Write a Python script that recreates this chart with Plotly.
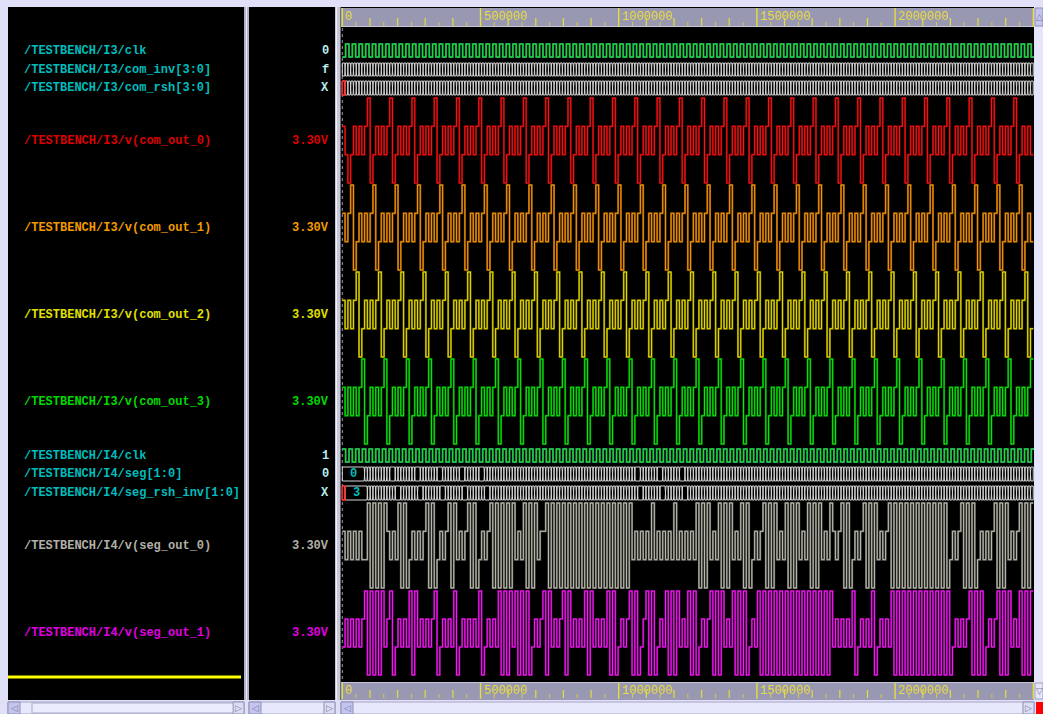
import plotly.graph_objects as go

W, H = 1043, 714

# ---------------------------------------------------------------- time base
STEP = 10080            # one LCD drive slot (ns)
CLK_HALF = 12100        # half period of the clocks (ns)
T_LEFT, T_RIGHT = -4700, 2502500

# ---------------------------------------------------------------- signal list
SIGNAL_NAMES = [
    "/TESTBENCH/I3/clk",
    "/TESTBENCH/I3/com_inv[3:0]",
    "/TESTBENCH/I3/com_rsh[3:0]",
    "/TESTBENCH/I3/v(com_out_0)",
    "/TESTBENCH/I3/v(com_out_1)",
    "/TESTBENCH/I3/v(com_out_2)",
    "/TESTBENCH/I3/v(com_out_3)",
    "/TESTBENCH/I4/clk",
    "/TESTBENCH/I4/seg[1:0]",
    "/TESTBENCH/I4/seg_rsh_inv[1:0]",
    "/TESTBENCH/I4/v(seg_out_0)",
    "/TESTBENCH/I4/v(seg_out_1)",
]
CURSOR_VALUES = ["0", "f", "X", "3.30V", "3.30V", "3.30V", "3.30V",
                 "1", "0", "X", "3.30V", "3.30V"]

RULER_TICKS = [0, 500000, 1000000, 1500000, 2000000, 2500000]
RULER_LABELS = ["0", "500000", "1000000", "1500000", "2000000", ""]
RULER_MINOR = 50000
RULER_MID = 100000
CURSOR_T = 0

# ---------------------------------------------------------------- clocks (one char per half period)
I3_CLK = (
    "0101010101010101010101010101010101010101"
    "0101010101010101010101010101010101010101"
    "0101010101010101010101010101010101010101"
    "0101010101010101010101010101010101010101"
    "0101010101010101010101010101010101010101"
    "0101010"
)
I4_CLK = (
    "1010101010101010101010101010101010101010"
    "1010101010101010101010101010101010101010"
    "1010101010101010101010101010101010101010"
    "1010101010101010101010101010101010101010"
    "1010101010101010101010101010101010101010"
    "1010101"
)

# ---------------------------------------------------------------- buses (one value per drive slot)
COM_INV = (
    "f7bdeb7d f7bdf7bd fe7bdeb7 f7bdeb7d f7bdf7bd fe7bdeb7 f7bdeb7d f7bdf7bd "
    "fe7bdeb7 f7bdeb7d f7bdf7bd fe7bdeb7 f7bdeb7d f7bdf7bd fe7bdeb7 f7bdeb7d "
    "f7bdf7bd fe7bdeb7 f7bdeb7d f7bdf7bd fe7bdeb7 f7bdeb7d f7bdf7bd fe7bdeb7 "
    "f7bdeb7d f7bdf7bd fe7bdeb7 f7bdeb7d f7bdf7bd fe7bdeb7 f7bdeb7d"
)
COM_RSH = (
    "x1248124 81248124 82148124 81248124 82148124 81248124 82148124 81248124 "
    "82148124 81248124 82148124 81248124 82148124 81248124 82148124 81248124 "
    "82148124 81248124 82148124 81248124 82148124 81248124 82148124 81248124 "
    "82148124 81248124 82148124 81248124 82148124 81248124 82148124"
)
SEG = (
    "00000000 12301230 12230123 01220123 01220123 01220123 03301230 12301230 "
    "12301230 12301230 12301230 12301230 12301230 12201230 12201230 12201230 "
    "12301230 12301230 12301230 12301230 12301230 12301230 12301230 12301230 "
    "12301230 12301230 12301230 12301230 12301230 12301230 12301230"
)
SEG_RSH_INV = (
    "x3333333 30120120 12011201 20122012 01200120 12011201 20122012 01201201 "
    "01201201 01201201 01201201 01201201 01201201 01220120 12001201 20112012 "
    "01201201 01201201 01201201 01201201 01201201 01201201 01201201 01201201 "
    "01201201 01201201 01201201 01201201 01201201 01201201 01201201"
)

# ---------------------------------------------------------------- analog outputs, level 0..3 = 0 / 1.1 / 2.2 / 3.3 V
COM_OUT_0 = (
    "21012121 23012121 23012121 23012121 23012121 23012121 23012121 23012121 "
    "23012121 23012121 23012121 23012121 23012121 23012121 23012121 23012121 "
    "23012121 23012121 23012121 23012121 23012121 23012121 23012121 23012121 "
    "23012121 23012121 23012121 23012121 23012121 23012121 23012121"
)
COM_OUT_1 = (
    "21230121 21230121 21230121 21230121 21230121 21230121 21230121 21230121 "
    "21230121 21230121 21230121 21230121 21230121 21230121 21230121 21230121 "
    "21230121 21230121 21230121 21230121 21230121 21230121 21230121 21230121 "
    "21230121 21230121 21230121 21230121 21230121 21230121 21230121"
)
COM_OUT_2 = (
    "21212301 21212301 21212301 21212301 21212301 21212301 21212301 21212301 "
    "21212301 21212301 21212301 21212301 21212301 21212301 21212301 21212301 "
    "21212301 21212301 21212301 21212301 21212301 21212301 21212301 21212301 "
    "21212301 21212301 21212301 21212301 21212301 21212301 21212301"
)
COM_OUT_3 = (
    "21212123 01212123 01212123 01212123 01212123 01212123 01212123 01212123 "
    "01212123 01212123 01212123 01212123 01212123 01212123 01212123 01212123 "
    "01212123 01212123 01212123 01212123 01212123 01212123 01212123 01212123 "
    "01212123 01212123 01212123 01212123 01212123 01212123 01212123"
)
SEG_OUT_0 = (
    "21212121 13030303 21213030 12121230 30121230 31212303 01212303 03030312 "
    "13030312 23030303 03030303 03030303 03030303 12121213 12121213 12121213 "
    "03031213 03031213 03012123 03031213 03031213 03031213 21230301 21230303 "
    "12123030 30303030 30303030 30121230 30301212 12303031 21230303"
)
SEG_OUT_1 = (
    "12121212 30303031 23012121 30312121 23012121 30121212 13012121 30303130 "
    "30301212 30312123 03121213 03121213 03012123 03012303 01213030 31213030 "
    "12123030 31213030 30121303 03030303 03030303 03030303 12121213 01212130 "
    "12121303 03030303 03030303 03012121 23030301 21230303 12130303"
)

# ---------------------------------------------------------------- row styling
MONO = "Liberation Mono, DejaVu Sans Mono, monospace"
CYAN = "#00bcbc"
PALE = "#b8eeee"
ROWS = [
    dict(kind="logic", data=I3_CLK, dt=CLK_HALF, top=44, bot=57, color="#00ff00", shade="#3a7a7a", label=CYAN, value=PALE),
    dict(kind="bus", data=COM_INV, dt=STEP, top=63, bot=76, label=CYAN, value=PALE),
    dict(kind="bus", data=COM_RSH, dt=STEP, top=81, bot=95, label=CYAN, value=PALE),
    dict(kind="analog", data=COM_OUT_0, dt=STEP, top=98, bot=183, color="#ff1a1a", shade="#8a0000", label="#dc0000", value="#dc0000"),
    dict(kind="analog", data=COM_OUT_1, dt=STEP, top=185, bot=270, color="#ff9c10", shade="#8a5000", label="#f09a00", value="#f09a00"),
    dict(kind="analog", data=COM_OUT_2, dt=STEP, top=272, bot=357, color="#f0e400", shade="#7a7400", label="#e0e000", value="#e0e000"),
    dict(kind="analog", data=COM_OUT_3, dt=STEP, top=359, bot=444, color="#10f010", shade="#007a00", label="#00d800", value="#00d800"),
    dict(kind="logic", data=I4_CLK, dt=CLK_HALF, top=449, bot=462, color="#00ff00", shade="#3a7a7a", label=CYAN, value=PALE),
    dict(kind="bus", data=SEG, dt=STEP, top=467, bot=481, label=CYAN, value=PALE),
    dict(kind="bus", data=SEG_RSH_INV, dt=STEP, top=486, bot=500, label=CYAN, value=PALE),
    dict(kind="analog", data=SEG_OUT_0, dt=STEP, top=503, bot=588, color="#c4c4b8", shade="#5e5e58", label="#b0b0a8", value="#b0b0a8"),
    dict(kind="analog", data=SEG_OUT_1, dt=STEP, top=591, bot=675, color="#ff22ff", shade="#800080", label="#e000e0", value="#e000e0"),
]

BG = "#e0e0f8"
RULER_BG = "#9898b2"
RULER_FG = "#e6dc3c"
BUS_LINE = "#d4d4d4"
X_RED = "#ff2020"


def parse(s):
    return s.replace(" ", "")


def level_xy(levels, dt, top, bot, nlev):
    xs, ys = [], []
    for i, c in enumerate(levels):
        xs.append(i * dt)
        ys.append(bot - int(c) * (bot - top) / (nlev - 1))
    xs.append(len(levels) * dt)
    ys.append(ys[-1])
    return xs, ys


def bus_paths(vals, dt, top, bot, d):
    """Two complementary outlines that cross at every value change."""
    n = len(vals)
    ax, ay = [0, 0], [bot, top]
    bx, by = [0], [bot]
    ua, ub = top, bot
    for i in range(1, n):
        if vals[i] != vals[i - 1]:
            t = i * dt
            ax += [t - d, t + d]
            ay += [ua, ub]
            bx += [t - d, t + d]
            by += [ub, ua]
            ua, ub = ub, ua
    te = n * dt
    ax += [te, te]
    ay += [ua, ub]
    bx += [te]
    by += [ub]
    return (ax, ay), (bx, by)


def runs(vals):
    out, s = [], 0
    for i in range(1, len(vals) + 1):
        if i == len(vals) or vals[i] != vals[s]:
            out.append((vals[s], s, i))
            s = i
    return out


fig = go.Figure()
annotations = []
shapes = []

# cursor
fig.add_trace(go.Scatter(x=[CURSOR_T, CURSOR_T], y=[28, 682], mode="lines",
                         line=dict(color="#9a9aa8", width=1, dash="dot"), hoverinfo="skip"))

for row in ROWS:
    vals = parse(row["data"])
    if row["kind"] in ("analog", "logic"):
        nlev = 4 if row["kind"] == "analog" else 2
        xs, ys = level_xy(vals, row["dt"], row["top"], row["bot"], nlev)
        fig.add_trace(go.Scatter(x=xs, y=ys, mode="lines", line_shape="hv",
                                 line=dict(color=row["shade"], width=2.0), hoverinfo="skip"))
        fig.add_trace(go.Scatter(x=xs, y=ys, mode="lines", line_shape="hv",
                                 line=dict(color=row["color"], width=0.9), hoverinfo="skip"))
    else:
        d = 1500
        (ax, ay), (bx, by) = bus_paths(vals, row["dt"], row["top"], row["bot"], d)
        for px_, py_ in ((ax, ay), (bx, by)):
            fig.add_trace(go.Scatter(x=px_, y=py_, mode="lines",
                                     line=dict(color=BUS_LINE, width=1), hoverinfo="skip"))
        for v, s, e in runs(vals):
            t0, t1 = s * row["dt"], e * row["dt"]
            if v == "x":
                fig.add_trace(go.Scatter(
                    x=[t0, t1, t1, t0, t0], y=[row["top"], row["top"], row["bot"], row["bot"], row["top"]],
                    mode="lines", line=dict(color=X_RED, width=1.5), hoverinfo="skip"))
            elif e - s >= 5:
                annotations.append(dict(x=t0, y=(row["top"] + row["bot"]) / 2, xref="x", yref="y",
                                        text=v, showarrow=False, xanchor="left", xshift=6,
                                        font=dict(family=MONO, size=12, color=CYAN, weight="bold")))

# names and cursor values
for name, value, row in zip(SIGNAL_NAMES, CURSOR_VALUES, ROWS):
    yc = (row["top"] + row["bot"]) / 2
    annotations.append(dict(x=22 / W, y=yc, xref="paper", yref="y", text=name, showarrow=False,
                            xanchor="left", yanchor="middle",
                            font=dict(family=MONO, size=12, color=row["label"], weight="bold")))
    annotations.append(dict(x=331 / W, y=yc, xref="paper", yref="y", text=value, showarrow=False,
                            xanchor="right", yanchor="middle",
                            font=dict(family=MONO, size=12, color=row["value"], weight="bold")))


def rect(x0, y0, x1, y1, fill, line=None, lw=0):
    shapes.append(dict(type="rect", xref="paper", yref="y", x0=x0 / W, x1=x1 / W, y0=y0, y1=y1,
                       fillcolor=fill, line=dict(color=line or fill, width=lw), layer="below"))


def hline(x0, x1, y, color, w):
    shapes.append(dict(type="line", xref="paper", yref="y", x0=x0 / W, x1=x1 / W, y0=y, y1=y,
                       line=dict(color=color, width=w), layer="below"))


def vline(x, y0, y1, color, w):
    shapes.append(dict(type="line", xref="paper", yref="y", x0=x / W, x1=x / W, y0=y0, y1=y1,
                       line=dict(color=color, width=w), layer="below"))


def glyph(x, y, ch, color="#7c7c98", size=10):
    annotations.append(dict(x=x / W, y=y, xref="paper", yref="y", text=ch, showarrow=False,
                            xanchor="center", yanchor="middle",
                            font=dict(family="DejaVu Sans", size=size, color=color)))


# window panels
rect(8, 7, 244, 700, "#000000")
rect(244, 7, 249, 700, "#b4b4c8")
vline(246.5, 7, 700, "#ececf6", 1)
rect(249, 7, 335, 700, "#000000")
rect(335, 7, 341, 700, "#c8c8da")
vline(336.5, 7, 700, "#f0f0f8", 1)
vline(340.5, 7, 700, "#6c6c7c", 1)
rect(341, 7, 1034, 700, "#000000")
rect(341, 8, 1034, 26, RULER_BG)
hline(341, 1034, 26.5, "#c4c4d8", 1)
rect(341, 683, 1034, 700, RULER_BG)
hline(341, 1034, 682.5, "#c4c4d8", 1)
hline(8, 241, 677, "#ffff00", 3)

# vertical scrollbar on the right
rect(1035, 7, 1043, 700, "#e4e4fa")
rect(1035, 8, 1043, 26, "#c4c4f0", "#8c8cb0", 1)
glyph(1039, 17, "△", size=9)
rect(1035, 683, 1043, 699, "#e4e4fa", "#a0a0c0", 1)
glyph(1039, 691, "▽", size=9)

# horizontal scrollbars
for x0, x1 in ((8, 244), (249, 335), (341, 1034)):
    rect(x0, 702, x1, 714, "#e8e8fc", "#a4a4c4", 1)
    rect(x0, 702, x0 + 12, 714, "#c4c4f0", "#9090b0", 1)
    glyph(x0 + 6, 708, "◁", size=9)
    rect(x1 - 11, 702, x1, 714, "#dcdcf6", "#9090b0", 1)
    glyph(x1 - 5.5, 708, "▷", size=9)
rect(32, 703, 233, 713, "#ececff", "#a8a8c8", 1)
rect(1036, 702, 1043, 714, "#ff0000")

# time rulers (top and bottom)
for t in range(0, RULER_TICKS[-1] + 1, RULER_MINOR):
    for top_y, bot_y in ((8, 26), (683, 698)):
        if t in RULER_TICKS:
            y0, y1, w, col = top_y, bot_y + 1, 1.4, RULER_FG
        elif t % RULER_MID == 0:
            y0, y1, w, col = bot_y - 8, bot_y, 1.2, RULER_FG
        else:
            y0, y1, w, col = bot_y - 4, bot_y, 1, "#d4cc48"
        shapes.append(dict(type="line", xref="x", yref="y", x0=t, x1=t, y0=y0, y1=y1,
                           line=dict(color=col, width=w)))
for t, lab in zip(RULER_TICKS, RULER_LABELS):
    if not lab:
        continue
    for yc in (16.5, 690.5):
        annotations.append(dict(x=t, y=yc, xref="x", yref="y", text=lab, showarrow=False,
                                xanchor="left", yanchor="middle", xshift=1,
                                font=dict(family=MONO, size=12, color=RULER_FG)))

fig.update_layout(
    width=W, height=H, autosize=False,
    margin=dict(l=0, r=0, t=0, b=0),
    paper_bgcolor=BG, plot_bgcolor="rgba(0,0,0,0)",
    showlegend=False,
    xaxis=dict(domain=[341 / W, 1034 / W], range=[T_LEFT, T_RIGHT], visible=False, fixedrange=True),
    yaxis=dict(domain=[0, 1], range=[H, 0], visible=False, fixedrange=True),
    shapes=shapes,
    annotations=annotations,
)

fig.write_html("out.html", config={"displayModeBar": False, "staticPlot": True})
